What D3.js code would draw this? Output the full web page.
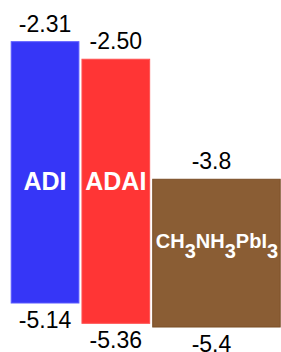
<!DOCTYPE html>
<html><head><meta charset="utf-8">
<script src="https://cdn.jsdelivr.net/npm/d3@7"></script>
<style>html,body{margin:0;padding:0;background:#fff;}svg{display:block;font-family:"Liberation Sans",Arial,sans-serif;}</style>
</head><body>
<svg id="c" width="281" height="352"></svg>
<script>
const materials = ["ADI", "ADAI", "CH3NH3PbI3"];
const lumo = [-2.31, -2.50, -3.8];
const homo = [-5.14, -5.36, -5.4];
const lumoLabels = ["-2.31", "-2.50", "-3.8"];
const homoLabels = ["-5.14", "-5.36", "-5.4"];
const widthUnits = [1, 1, 1.87];
const fills = ["#3636f7", "#ff3535", "#8a5d34"];
const strokes = ["#5a5aff", "#ff5050", "#7a4e26"];

const svg = d3.select("#c");
const y = d3.scaleLinear().domain([-2.31, -5.14]).range([41.7, 303]);
const gapU = 0.03;
const starts = [];
let acc = 0;
widthUnits.forEach((w, i) => { starts.push(acc); acc += w + gapU; });
const total = acc - gapU;
const x = d3.scaleLinear().domain([0, total]).range([10.7, 280.7]);

const data = materials.map((m, i) => ({
  m, lumo: lumo[i], homo: homo[i], lt: lumoLabels[i], ht: homoLabels[i],
  x0: x(starts[i]), x1: x(starts[i] + widthUnits[i]), fill: fills[i], stroke: strokes[i]
}));

svg.selectAll("rect.bar").data(data).join("rect")
  .attr("class", "bar")
  .attr("x", d => d.x0 + 0.5).attr("width", d => d.x1 - d.x0 - 1)
  .attr("y", d => y(d.lumo)).attr("height", d => y(d.homo) - y(d.lumo))
  .attr("fill", d => d.fill).attr("stroke", d => d.stroke).attr("stroke-width", 1);

svg.selectAll("text.top").data(data).join("text")
  .attr("class", "top")
  .attr("x", d => (d.x0 + d.x1) / 2 + (d.m === "CH3NH3PbI3" ? -5 : 0))
  .attr("y", d => y(d.lumo) - 10)
  .attr("text-anchor", "middle").attr("font-size", 23).attr("fill", "#000")
  .text(d => d.lt);

svg.selectAll("text.bot").data(data).join("text")
  .attr("class", "bot")
  .attr("x", d => (d.x0 + d.x1) / 2 + (d.m === "CH3NH3PbI3" ? -5 : 0))
  .attr("y", d => y(d.homo) + 25)
  .attr("text-anchor", "middle").attr("font-size", 23).attr("fill", "#000")
  .text(d => d.ht);

// inner name labels
const inner = data.slice(0, 2);
svg.selectAll("text.name").data(inner).join("text")
  .attr("class", "name")
  .attr("x", d => (d.x0 + d.x1) / 2)
  .attr("y", d => y(-3.92))
  .attr("text-anchor", "middle").attr("font-size", 25).attr("font-weight", "bold").attr("fill", "#fff")
  .text(d => d.m);

const d3b = data[2];
const t = svg.append("text")
  .attr("x", (d3b.x0 + d3b.x1) / 2 + 0.5)
  .attr("y", y(-4.54))
  .attr("text-anchor", "middle").attr("font-size", 20).attr("font-weight", "bold").attr("fill", "#fff");
const parts = [["CH", false], ["3", true], ["NH", false], ["3", true], ["PbI", false], ["3", true]];
parts.forEach(([s, sub], i) => {
  const ts = t.append("tspan").text(s);
  if (sub) ts.attr("dy", 10);
  else if (i > 0) ts.attr("dy", -10);
});
</script>
</body></html>
